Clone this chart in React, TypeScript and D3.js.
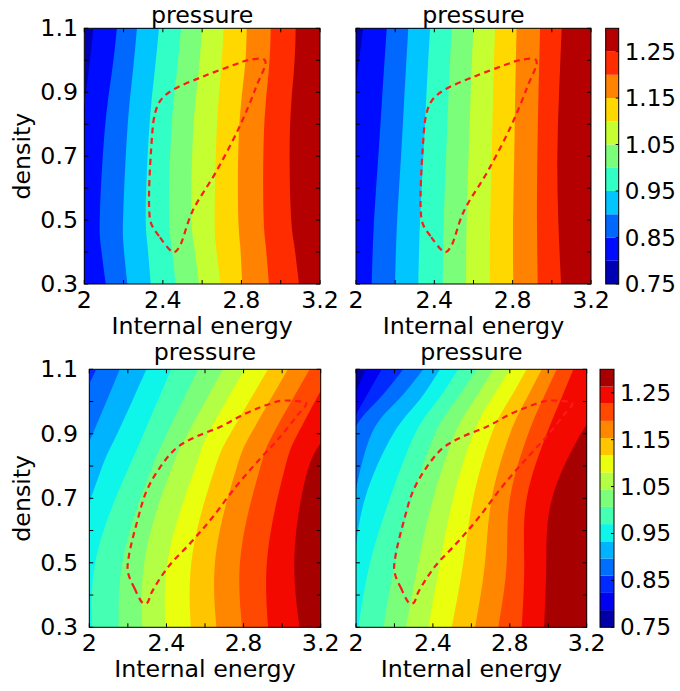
import React from 'react';
import * as d3 from 'd3';

// axes
const ENERGY_RANGE = [2, 3.2];
const DENSITY_RANGE = [0.3, 1.1];
const X_TICKS = [2, 2.2, 2.4, 2.6, 2.8, 3.0, 3.2];
const X_LABELS = [2, 2.4, 2.8, 3.2];
const Y_TICKS = [0.3, 0.4, 0.5, 0.6, 0.7, 0.8, 0.9, 1.0, 1.1];
const Y_LABELS = [0.3, 0.5, 0.7, 0.9, 1.1];
const CBAR_LABELS = [0.75, 0.85, 0.95, 1.05, 1.15, 1.25];

// contour levels of pressure
const TOP_LEVELS = [0.75, 0.8, 0.85, 0.9, 0.95, 1.0, 1.05, 1.1, 1.15, 1.2, 1.25, 1.3];
const BOTTOM_LEVELS = [0.75, 0.7867, 0.8233, 0.86, 0.8967, 0.9333, 0.97, 1.0067, 1.0433,
  1.08, 1.1167, 1.1533, 1.19, 1.2267, 1.2633, 1.3];

// contour boundaries: internal energy where each level is crossed, read at these densities
// (listed top to bottom)
const P1_DENSITY = [1.1, 0.975, 0.78, 0.53, 0.425, 0.3];
const P1_FIRST_BAND = 0;
const P1_BOUNDS = [
  [2.046, 2.024, 1.985, 1.94, 1.93, 1.93],
  [2.166, 2.143, 2.104, 2.080, 2.083, 2.109],
  [2.268, 2.249, 2.219, 2.199, 2.199, 2.219],
  [2.380, 2.360, 2.330, 2.313, 2.321, 2.338],
  [2.492, 2.473, 2.443, 2.431, 2.443, 2.465],
  [2.599, 2.584, 2.555, 2.545, 2.558, 2.584],
  [2.709, 2.697, 2.674, 2.664, 2.669, 2.694],
  [2.827, 2.817, 2.788, 2.783, 2.793, 2.804],
  [2.949, 2.940, 2.915, 2.912, 2.923, 2.940],
  [3.076, 3.068, 3.047, 3.051, 3.068, 3.093],
];

const P2_DENSITY = [1.1, 0.9, 0.7, 0.5, 0.3];
const P2_FIRST_BAND = 0;
const P2_BOUNDS = [
  [2.037, 1.995, 1.96, 1.93, 1.90],
  [2.157, 2.135, 2.114, 2.092, 2.080],
  [2.267, 2.248, 2.230, 2.210, 2.199],
  [2.378, 2.360, 2.344, 2.327, 2.318],
  [2.488, 2.473, 2.460, 2.448, 2.443],
  [2.599, 2.586, 2.575, 2.565, 2.562],
  [2.710, 2.700, 2.693, 2.685, 2.684],
  [2.820, 2.813, 2.808, 2.802, 2.803],
  [2.940, 2.932, 2.926, 2.924, 2.928],
  [3.050, 3.037, 3.028, 3.033, 3.047],
];

const P3_DENSITY = [1.1, 0.9, 0.79, 0.54, 0.3];
const P3_FIRST_BAND = 2;
const P3_BOUNDS = [
  [2.036, 1.88, 1.80, 1.60, 1.50],
  [2.158, 2.018, 1.93, 1.75, 1.65],
  [2.296, 2.145, 2.062, 1.92, 1.80],
  [2.425, 2.282, 2.201, 2.045, 2.014],
  [2.564, 2.402, 2.322, 2.184, 2.152],
  [2.693, 2.510, 2.425, 2.296, 2.275],
  [2.806, 2.617, 2.547, 2.417, 2.394],
  [2.927, 2.731, 2.650, 2.538, 2.526],
  [3.030, 2.838, 2.762, 2.659, 2.659],
  [3.143, 2.954, 2.884, 2.788, 2.792],
  [3.26, 3.081, 3.013, 2.927, 2.927],
  [3.40, 3.23, 3.134, 3.065, 3.09],
];

const P4_DENSITY = [1.1, 1.0, 0.9, 0.7, 0.5, 0.3];
const P4_FIRST_BAND = 0;
const P4_BOUNDS = [
  [2.05, 1.97, 1.85, 1.70, 1.60, 1.50],
  [2.134, 2.038, 1.95, 1.80, 1.70, 1.60],
  [2.246, 2.108, 1.98, 1.88, 1.80, 1.72],
  [2.350, 2.212, 2.081, 1.99, 1.92, 1.84],
  [2.437, 2.324, 2.194, 2.047, 1.99, 1.95],
  [2.532, 2.420, 2.307, 2.177, 2.073, 2.012],
  [2.628, 2.515, 2.411, 2.290, 2.203, 2.142],
  [2.714, 2.610, 2.515, 2.402, 2.324, 2.260],
  [2.801, 2.697, 2.610, 2.506, 2.437, 2.376],
  [2.888, 2.792, 2.706, 2.610, 2.558, 2.498],
  [2.966, 2.879, 2.801, 2.706, 2.671, 2.619],
  [3.044, 2.966, 2.896, 2.801, 2.784, 2.740],
  [3.131, 3.061, 2.992, 2.888, 2.875, 2.862],
  [3.42, 3.29, 3.17, 3.02, 2.99, 2.978],
];

// dashed region outline [energy, density]
const TOP_REGION = [
  [2.445, 0.402], [2.38, 0.45], [2.34, 0.49], [2.33, 0.542], [2.34, 0.719],
  [2.36, 0.834], [2.39, 0.876], [2.45, 0.907], [2.60, 0.948], [2.76, 0.985],
  [2.84, 1.001], [2.92, 1.0], [2.875, 0.917], [2.79, 0.792], [2.67, 0.65],
  [2.55, 0.527], [2.485, 0.417], [2.46, 0.4],
];
const BOTTOM_REGION = [
  [2.28, 0.374], [2.235, 0.42], [2.20, 0.472], [2.205, 0.52], [2.25, 0.632],
  [2.295, 0.72], [2.36, 0.79], [2.45, 0.855], [2.55, 0.89], [2.68, 0.922],
  [2.80, 0.96], [2.90, 0.985], [2.99, 1.002], [3.06, 1.002], [3.125, 0.995],
  [3.08, 0.958], [2.99, 0.891], [2.88, 0.819], [2.76, 0.736], [2.635, 0.638],
  [2.53, 0.565], [2.41, 0.488], [2.325, 0.41], [2.30, 0.376],
];

const FONT = '"DejaVu Sans", sans-serif';
const FS = 23.7;

// matplotlib jet
const jetR = d3.scaleLinear().domain([0, 0.35, 0.66, 0.89, 1]).range([0, 0, 1, 1, 0.5]).clamp(true);
const jetG = d3.scaleLinear().domain([0, 0.125, 0.375, 0.64, 0.91, 1]).range([0, 0, 1, 1, 0, 0]).clamp(true);
const jetB = d3.scaleLinear().domain([0, 0.11, 0.34, 0.65, 1]).range([0.5, 1, 1, 0, 0]).clamp(true);
function jet(t) {
  return d3.rgb(jetR(t) * 255, jetG(t) * 255, jetB(t) * 255).formatHex();
}
function bandColors(levels) {
  const n = levels.length - 1;
  return d3.range(n).map(i => jet((i + 0.5) / n));
}

function Panel({ box, density, bounds, firstBand, levels, region, id, yLabels, title, titleY }) {
  const x = d3.scaleLinear().domain(ENERGY_RANGE).range([box.left, box.right]);
  const y = d3.scaleLinear().domain(DENSITY_RANGE).range([box.bottom, box.top]);
  const colors = bandColors(levels);

  const area = d3.area()
    .y(d => y(d[1]))
    .x0(d => x(d[0]))
    .x1(box.right + 60)
    .curve(d3.curveNatural);

  const outline = d3.line()
    .x(d => x(d[0]))
    .y(d => y(d[1]))
    .curve(d3.curveCatmullRomClosed.alpha(0.5));

  const cx = (box.left + box.right) / 2;
  const cy = (box.top + box.bottom) / 2;
  const tick = 4;

  return (
    <g>
      <defs>
        <clipPath id={id}>
          <rect x={box.left} y={box.top} width={box.right - box.left} height={box.bottom - box.top} />
        </clipPath>
      </defs>
      <g clipPath={`url(#${id})`}>
        <rect x={box.left} y={box.top} width={box.right - box.left} height={box.bottom - box.top}
          fill={colors[firstBand]} />
        {bounds.map((b, k) => (
          <path key={k} d={area(b.map((v, j) => [v, density[j]]))} fill={colors[firstBand + k + 1]} />
        ))}
        <path d={outline(region)} fill="none" stroke="#ff1a1a" strokeWidth={2.2}
          strokeDasharray="6,4.5" />
      </g>
      <rect x={box.left} y={box.top} width={box.right - box.left} height={box.bottom - box.top}
        fill="none" stroke="#000" strokeWidth={1} />
      {X_TICKS.map(t => (
        <g key={'xt' + t}>
          <line x1={x(t)} x2={x(t)} y1={box.bottom} y2={box.bottom - tick} stroke="#000" />
          <line x1={x(t)} x2={x(t)} y1={box.top} y2={box.top + tick} stroke="#000" />
        </g>
      ))}
      {Y_TICKS.map(t => (
        <g key={'yt' + t}>
          <line x1={box.left} x2={box.left + tick} y1={y(t)} y2={y(t)} stroke="#000" />
          <line x1={box.right} x2={box.right - tick} y1={y(t)} y2={y(t)} stroke="#000" />
        </g>
      ))}
      {X_LABELS.map(t => (
        <text key={'xl' + t} x={x(t)} y={box.bottom + 23.5} textAnchor="middle"
          fontFamily={FONT} fontSize={FS}>{d3.format('~g')(t)}</text>
      ))}
      {yLabels && Y_LABELS.map(t => (
        <text key={'yl' + t} x={78} y={y(t)} textAnchor="end" dominantBaseline="central"
          fontFamily={FONT} fontSize={FS}>{t.toFixed(1)}</text>
      ))}
      <text x={cx} y={box.bottom + 50} textAnchor="middle" fontFamily={FONT} fontSize={FS}>Internal energy</text>
      <text x={cx} y={titleY} textAnchor="middle" fontFamily={FONT} fontSize={FS}>{title}</text>
      {yLabels && (
        <text transform={`translate(22,${cy}) rotate(-90)`} textAnchor="middle" dominantBaseline="central"
          fontFamily={FONT} fontSize={FS}>density</text>
      )}
    </g>
  );
}

function Colorbar({ box, levels }) {
  const y = d3.scaleLinear().domain([levels[0], levels[levels.length - 1]]).range([box.bottom, box.top]);
  const colors = bandColors(levels);
  return (
    <g>
      {colors.map((c, i) => (
        <rect key={i} x={box.left} width={box.right - box.left} y={y(levels[i + 1])}
          height={y(levels[i]) - y(levels[i + 1])} fill={c} />
      ))}
      <rect x={box.left} y={box.top} width={box.right - box.left} height={box.bottom - box.top}
        fill="none" stroke="#000" />
      {CBAR_LABELS.map(t => (
        <g key={t}>
          <line x1={box.right} x2={box.right - 3} y1={y(t)} y2={y(t)} stroke="#000" />
          <text x={box.right + 6} y={y(t)} dominantBaseline="central" fontFamily={FONT} fontSize={FS - 0.7}>
            {t.toFixed(2)}
          </text>
        </g>
      ))}
    </g>
  );
}

export default function App() {
  const p1 = { left: 84.3, right: 320, top: 28.3, bottom: 284 };
  const p2 = { left: 356, right: 591, top: 28.3, bottom: 284 };
  const p3 = { left: 89.3, right: 320.7, top: 369.3, bottom: 627.3 };
  const p4 = { left: 356, right: 586.7, top: 369.3, bottom: 627.3 };
  return (
    <svg width={680} height={691} style={{ position: 'absolute', left: 0, top: 0, background: '#fff' }}>
      <Panel id="c1" box={p1} density={P1_DENSITY} bounds={P1_BOUNDS} firstBand={P1_FIRST_BAND}
        levels={TOP_LEVELS} region={TOP_REGION} yLabels title="pressure" titleY={22.5} />
      <Panel id="c2" box={p2} density={P2_DENSITY} bounds={P2_BOUNDS} firstBand={P2_FIRST_BAND}
        levels={TOP_LEVELS} region={TOP_REGION} yLabels={false} title="pressure" titleY={22.5} />
      <Panel id="c3" box={p3} density={P3_DENSITY} bounds={P3_BOUNDS} firstBand={P3_FIRST_BAND}
        levels={BOTTOM_LEVELS} region={BOTTOM_REGION} yLabels title="pressure" titleY={360} />
      <Panel id="c4" box={p4} density={P4_DENSITY} bounds={P4_BOUNDS} firstBand={P4_FIRST_BAND}
        levels={BOTTOM_LEVELS} region={BOTTOM_REGION} yLabels={false} title="pressure" titleY={360} />
      <Colorbar box={{ left: 605.7, right: 618.7, top: 28.3, bottom: 284 }} levels={TOP_LEVELS} />
      <Colorbar box={{ left: 600, right: 614, top: 369.3, bottom: 627.3 }} levels={BOTTOM_LEVELS} />
    </svg>
  );
}
